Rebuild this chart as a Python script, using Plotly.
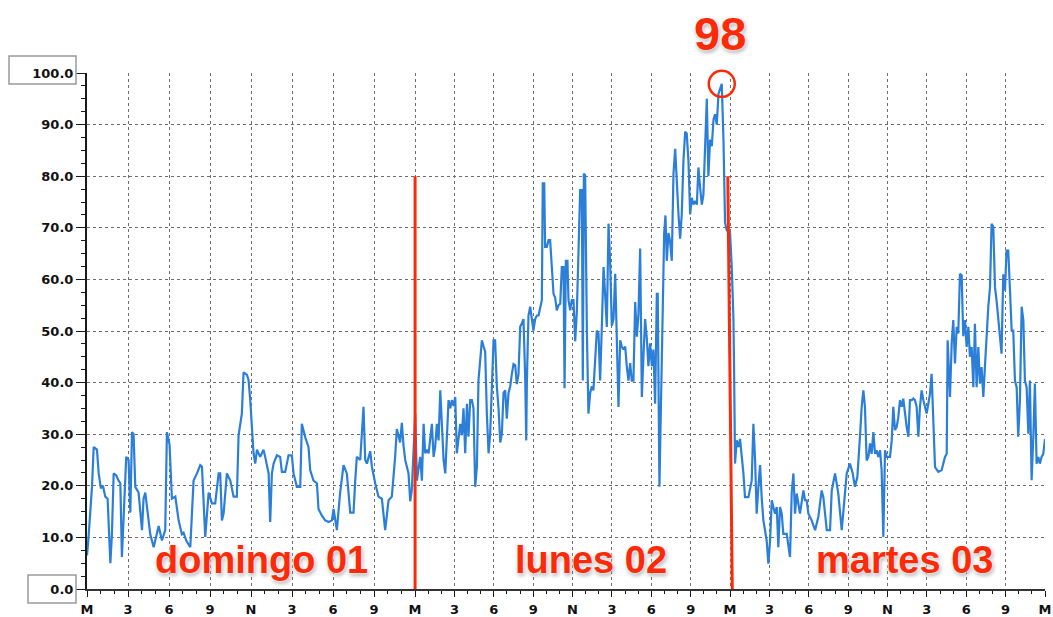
import plotly.graph_objects as go

# ---------------- data ----------------
day_names = ["domingo 01", "lunes 02", "martes 03"]
day_lengths = [25, 24, 24]          # hours shown for each day (first day has 25 h)
hour_tick_labels = ["M", "3", "6", "9", "N", "3", "6", "9"]
end_tick_label = "M"
y_tick_values = [0, 10, 20, 30, 40, 50, 60, 70, 80, 90, 100]
boxed_y_ticks = [0, 100]
peak_text = "98"

sun_hours = [0.0, 0.12, 0.38, 0.51, 0.76, 0.89, 1.06, 1.22, 1.39, 1.57,
             1.78, 1.90, 2.03, 2.23, 2.41, 2.54, 2.66, 2.79, 2.99, 3.17,
             3.30, 3.43, 3.55, 3.68, 3.93, 4.19, 4.31, 4.44, 4.57, 4.82,
             5.08, 5.33, 5.46, 5.71, 5.96, 6.09, 6.29, 6.47, 6.73, 6.98,
             7.23, 7.36, 7.56, 7.87, 8.12, 8.38, 8.63, 8.76, 9.01, 9.27,
             9.52, 9.77, 10.03, 10.15, 10.28, 10.41, 10.66, 10.92, 11.17, 11.42,
             11.55, 11.80, 11.93, 12.19, 12.31, 12.44, 12.57, 12.69, 12.82, 12.95,
             13.20, 13.45, 13.58, 13.84, 13.96, 14.09, 14.22, 14.47, 14.72, 14.85,
             15.10, 15.36, 15.61, 15.74, 15.99, 16.25, 16.37, 16.63, 16.88, 17.01,
             17.26, 17.52, 17.64, 17.90, 18.15, 18.41, 18.66, 18.79, 19.04, 19.29,
             19.55, 19.80, 20.06, 20.31, 20.44, 20.56, 20.82, 20.95, 21.07, 21.20,
             21.33, 21.58, 21.71, 21.96, 22.21, 22.47, 22.60, 22.72, 22.98, 23.23,
             23.48, 23.61, 23.86, 23.99, 24.12, 24.25, 24.50, 24.63, 24.75, 25.01]
sun_values = [6.5, 10.1, 19.8, 27.5, 27.0, 22.4, 19.5, 20.0, 17.9, 17.5,
              5.0, 10.6, 22.4, 22.0, 21.0, 20.5, 6.2, 14.0, 25.6, 25.0,
              14.8, 30.4, 30.0, 19.8, 18.7, 11.4, 17.5, 18.7, 15.5, 10.6,
              8.1, 10.6, 12.2, 9.4, 11.4, 30.4, 28.0, 17.5, 17.9, 13.3,
              10.6, 10.9, 9.4, 8.1, 21.0, 22.4, 24.0, 23.7, 10.1, 18.7,
              16.6, 16.6, 22.4, 22.4, 13.3, 14.6, 22.4, 21.0, 17.9, 17.9,
              29.8, 34.0, 42.0, 41.5, 40.5, 36.6, 29.8, 26.3, 24.3, 27.0,
              25.6, 27.0, 25.6, 22.4, 13.0, 22.4, 24.3, 25.9, 25.6, 22.7,
              22.7, 25.9, 25.9, 22.4, 19.8, 19.8, 32.0, 29.4, 27.5, 23.0,
              21.0, 20.5, 15.5, 14.2, 13.3, 13.0, 13.3, 15.5, 11.4, 18.7,
              24.0, 22.4, 14.8, 14.8, 21.0, 25.6, 25.0, 30.4, 35.3, 25.0,
              24.3, 26.7, 23.7, 20.5, 17.9, 17.5, 14.8, 11.4, 17.2, 17.9,
              25.6, 31.0, 28.4, 32.2, 27.8, 25.0, 22.4, 17.0, 19.2, 34.0]

mon_hours = [25.14, 25.39, 25.52, 25.65, 25.77, 25.90, 26.03, 26.15, 26.28, 26.41,
             26.53, 26.66, 26.79, 26.92, 27.04, 27.17, 27.30, 27.42, 27.55, 27.68,
             27.80, 27.93, 28.06, 28.18, 28.31, 28.44, 28.57, 28.69, 28.82, 28.95,
             29.07, 29.20, 29.33, 29.45, 29.58, 29.71, 29.83, 29.96, 30.09, 30.22,
             30.34, 30.47, 30.60, 30.72, 30.85, 30.98, 31.10, 31.23, 31.36, 31.49,
             31.61, 31.74, 31.87, 31.99, 32.12, 32.25, 32.37, 32.50, 32.63, 32.75,
             32.88, 33.01, 33.14, 33.26, 33.39, 33.47, 33.52, 33.64, 33.77, 33.90,
             34.02, 34.15, 34.28, 34.41, 34.53, 34.66, 34.73, 34.84, 34.91, 35.04,
             35.17, 35.29, 35.42, 35.55, 35.67, 35.80, 35.93, 36.06, 36.18, 36.31,
             36.39, 36.49, 36.61, 36.69, 36.82, 36.94, 37.07, 37.20, 37.33, 37.45,
             37.58, 37.71, 37.78, 37.86, 37.96, 38.09, 38.21, 38.34, 38.47, 38.59,
             38.72, 38.85, 38.98, 39.10, 39.23, 39.36, 39.48, 39.61, 39.74, 39.86,
             39.99, 40.12, 40.25, 40.37, 40.50, 40.63, 40.75, 40.88, 41.01, 41.13,
             41.26, 41.39, 41.51, 41.64, 41.77, 41.90, 42.02, 42.15, 42.28, 42.40,
             42.53, 42.66, 42.78, 42.91, 43.04, 43.16, 43.29, 43.42, 43.49, 43.62,
             43.72, 43.88, 43.98, 44.08, 44.18, 44.31, 44.43, 44.56, 44.69, 44.82,
             44.94, 45.07, 45.20, 45.32, 45.45, 45.58, 45.70, 45.83, 45.96, 46.08,
             46.21, 46.34, 46.47, 46.59, 46.72, 46.85, 46.97, 47.10, 47.23, 47.35,
             47.48, 47.61, 47.74, 47.86, 47.99, 48.12, 48.24, 48.37, 48.50, 48.62,
             48.75]
mon_values = [21.0, 25.6, 21.0, 32.0, 26.3, 27.0, 26.3, 29.8, 32.0, 25.6,
              27.5, 32.0, 28.8, 38.5, 32.0, 25.0, 22.4, 28.8, 36.6, 35.0,
              36.6, 35.5, 37.2, 26.3, 29.8, 32.0, 29.8, 35.0, 26.3, 35.9,
              29.5, 36.6, 36.6, 35.0, 19.8, 23.7, 40.4, 45.0, 48.2, 47.0,
              46.0, 33.8, 26.3, 30.0, 39.0, 48.2, 48.2, 39.3, 35.0, 28.4,
              30.0, 38.0, 38.5, 33.0, 38.0, 39.3, 41.6, 43.6, 43.4, 39.7,
              41.6, 50.8, 51.5, 52.3, 41.0, 28.8, 40.4, 53.0, 54.7, 52.3,
              50.1, 52.3, 53.0, 53.0, 54.3, 56.0, 78.6, 78.6, 66.3, 66.3,
              67.6, 67.6, 62.4, 57.2, 56.5, 54.0, 55.0, 55.3, 62.4, 62.4,
              38.9, 63.6, 63.6, 56.0, 54.0, 56.0, 56.0, 48.0, 54.0, 63.6,
              77.3, 77.3, 40.4, 80.5, 80.2, 50.0, 34.0, 38.0, 39.3, 38.5,
              44.4, 50.1, 49.5, 40.4, 50.8, 62.4, 57.2, 50.8, 70.8, 63.6,
              51.0, 52.3, 61.1, 47.6, 35.3, 48.2, 47.0, 46.4, 47.0, 43.2,
              40.4, 43.8, 40.4, 40.4, 55.6, 48.9, 53.3, 66.0, 37.2, 45.0,
              52.3, 48.5, 43.2, 47.6, 43.2, 46.4, 35.9, 57.2, 57.2, 19.8,
              33.4, 54.0, 68.9, 72.4, 63.6, 69.0, 67.4, 63.6, 80.5, 85.3,
              77.9, 72.6, 67.9, 72.6, 83.0, 88.6, 88.3, 83.0, 72.6, 75.8,
              74.5, 75.2, 74.5, 81.7, 77.8, 74.5, 76.4, 86.9, 95.0, 80.0,
              87.1, 85.8, 91.0, 92.0, 90.0, 96.0, 97.0, 97.9, 87.0, 71.0,
              69.5]

tue_hours = [49.00, 49.13, 49.26, 49.31, 49.38, 49.51, 49.64, 49.76, 49.89, 50.02,
             50.14, 50.40, 50.65, 50.78, 50.91, 51.03, 51.16, 51.29, 51.41, 51.54,
             51.79, 51.92, 52.05, 52.18, 52.30, 52.43, 52.56, 52.68, 52.81, 52.94,
             53.06, 53.32, 53.57, 53.70, 53.83, 53.95, 54.08, 54.33, 54.59, 54.71,
             54.84, 54.97, 55.22, 55.48, 55.73, 55.98, 56.11, 56.37, 56.62, 56.75,
             57.00, 57.25, 57.51, 57.76, 57.89, 58.14, 58.35, 58.52, 58.70, 58.90,
             59.03, 59.16, 59.28, 59.41, 59.54, 59.67, 59.79, 59.92, 60.05, 60.17,
             60.30, 60.43, 60.55, 60.68, 60.81, 60.94, 61.19, 61.32, 61.44, 61.57,
             61.70, 61.82, 61.95, 62.08, 62.20, 62.46, 62.59, 62.71, 62.84, 62.97,
             63.09, 63.22, 63.35, 63.47, 63.60, 63.73, 63.85, 63.98, 64.11, 64.24,
             64.36, 64.49, 64.62, 64.87, 65.12, 65.38, 65.51, 65.58, 65.76, 65.89,
             66.01, 66.14, 66.27, 66.39, 66.52, 66.65, 66.77, 66.90, 67.03, 67.16,
             67.28, 67.41, 67.54, 67.66, 67.79, 67.92, 68.04, 68.17, 68.30, 68.42,
             68.55, 68.68, 68.81, 68.93, 69.06, 69.19, 69.31, 69.44, 69.57, 69.69,
             69.82, 69.95, 70.07, 70.20, 70.33, 70.46, 70.58, 70.71, 70.84, 70.96,
             71.09, 71.22, 71.35, 71.47, 71.60, 71.73, 71.85, 71.98, 72.11, 72.23,
             72.36, 72.49, 72.61, 72.74, 72.87, 73.00]
tue_values = [69.0, 62.4, 52.3, 42.0, 24.3, 28.8, 27.5, 29.1, 26.3, 22.4,
              17.8, 17.8, 21.0, 32.0, 24.9, 14.6, 19.8, 24.0, 17.8, 13.3,
              9.4, 4.9, 9.4, 17.2, 15.9, 14.6, 15.9, 8.1, 15.9, 14.6,
              10.7, 10.7, 6.2, 18.7, 22.4, 14.6, 18.5, 14.6, 19.1, 17.2,
              17.2, 14.6, 13.3, 11.4, 14.0, 19.1, 17.8, 11.4, 11.4, 19.1,
              22.4, 18.5, 11.4, 18.5, 22.4, 24.3, 22.4, 19.8, 21.7, 29.5,
              35.3, 38.5, 35.3, 24.9, 25.6, 28.2, 26.2, 30.4, 26.2, 26.9,
              25.6, 26.9, 23.0, 10.1, 26.9, 25.6, 25.6, 28.8, 35.3, 30.8,
              31.4, 33.3, 36.6, 35.3, 36.9, 31.4, 29.5, 36.6, 36.6, 36.9,
              36.6, 35.3, 29.5, 35.3, 38.5, 36.6, 35.3, 34.0, 35.9, 37.9,
              41.7, 32.6, 23.6, 22.7, 23.0, 25.6, 26.2, 48.2, 37.2, 47.6,
              52.1, 43.7, 50.8, 49.5, 61.1, 60.8, 49.0, 52.1, 46.9, 50.8,
              45.0, 46.9, 39.1, 51.4, 39.1, 46.9, 39.8, 43.0, 37.2, 43.0,
              49.5, 54.7, 58.5, 70.8, 70.2, 58.5, 55.9, 52.1, 48.8, 45.6,
              61.0, 57.8, 65.6, 65.6, 58.0, 50.1, 50.1, 40.4, 39.1, 29.5,
              36.6, 54.7, 52.1, 40.4, 39.1, 30.1, 40.4, 21.1, 29.5, 39.8,
              24.3, 25.6, 24.3, 25.6, 26.2, 29.1]

hours = sun_hours + mon_hours + tue_hours
values = sun_values + mon_values + tue_values

# ---------------- styling ----------------
BLUE = "#2b7fd9"
RED = "#fb2b0a"
GRID = "#6e6e6e"
AXIS = "#1a1a1a"
TICK_FONT = dict(family="DejaVu Sans, Verdana, sans-serif", size=13, color="#111111", weight="bold")
LABEL_FONT = dict(family="Liberation Sans, Arial, Helvetica, sans-serif", color=RED, weight="bold",
                  shadow="0px 0px 2px #ffffff, 0px 0px 4px #ffffff, 1px 2px 4px rgba(0,0,0,0.45)")

FIG_W, FIG_H = 1053, 617
M_L, M_R, M_T, M_B = 87, 8, 73, 28
plot_w = FIG_W - M_L - M_R
plot_h = FIG_H - M_T - M_B

total_hours = sum(day_lengths)
day_starts = [sum(day_lengths[:i]) for i in range(len(day_lengths))]

tickvals, ticktext, minor_vals = [], [], []
for start, length in zip(day_starts, day_lengths):
    for k, lab in enumerate(hour_tick_labels):
        tickvals.append(start + k * length / 8)
        ticktext.append(lab)
    for j in range(1, 24):
        if j % 3:
            minor_vals.append(start + j * length / 24)
tickvals.append(total_hours)
ticktext.append(end_tick_label)

fig = go.Figure()
fig.add_trace(go.Scatter(x=hours, y=values, mode="lines",
                         line=dict(color=BLUE, width=2.2),
                         hoverinfo="skip", showlegend=False))

# circle around the maximum
imax = max(range(len(values)), key=values.__getitem__)
fig.add_trace(go.Scatter(x=[hours[imax]], y=[values[imax]], mode="markers",
                         marker=dict(symbol="circle-open", size=26, color=RED,
                                     line=dict(width=2.5, color=RED)),
                         cliponaxis=False, hoverinfo="skip", showlegend=False))

shapes = []
# red day separators (from 0 up to 80)
for i, start in enumerate(day_starts[1:]):
    lean = 0.0 if i == 0 else 0.17
    shapes.append(dict(type="line", xref="x", yref="y", x0=start - lean, x1=start + lean,
                       y0=80, y1=0, line=dict(color=RED, width=3), layer="above"))
# boxes around the first and last y tick labels
for v in boxed_y_ticks:
    txt = f"{v:.1f}"
    w_px = 19.5 + 9.5 * len(txt)
    h_px = 14
    yc = v / 100 + (3 / plot_h if v == 100 else 0)
    shapes.append(dict(type="rect", xref="paper", yref="paper",
                       x0=-(11 + w_px) / plot_w, x1=-11 / plot_w,
                       y0=yc - h_px / plot_h, y1=yc + h_px / plot_h,
                       line=dict(color="#9a9a9a", width=1.5), fillcolor="rgba(0,0,0,0)", layer="above"))

annotations = []
label_hours = [13.3, 38.4, 62.3]
for name, hx in zip(day_names, label_hours):
    annotations.append(dict(x=hx, y=5.6, xref="x", yref="y", text=name, showarrow=False,
                            xanchor="center", yanchor="middle",
                            font=dict(size=38, **LABEL_FONT)))
annotations.append(dict(x=hours[imax] - 0.15, y=1.0 + 40 / plot_h, xref="x", yref="paper", text=peak_text,
                        showarrow=False, xanchor="center", yanchor="middle",
                        font=dict(size=47, **LABEL_FONT)))

fig.update_layout(
    width=FIG_W, height=FIG_H,
    margin=dict(l=M_L, r=M_R, t=M_T, b=M_B, autoexpand=False),
    paper_bgcolor="white", plot_bgcolor="white",
    showlegend=False, hovermode=False,
    shapes=shapes, annotations=annotations,
)
fig.update_xaxes(
    range=[0, total_hours], tickmode="array", tickvals=tickvals, ticktext=ticktext,
    tickangle=0, tickfont=TICK_FONT, ticks="outside", ticklen=6, tickwidth=1, tickcolor=AXIS,
    ticklabelstandoff=2, ticklabeloverflow="allow",
    showline=True, linecolor="#333333", linewidth=1.5, zeroline=False,
    showgrid=True, gridcolor=GRID, gridwidth=1, griddash="3px,3px",
    minor=dict(tickvals=minor_vals, ticks="outside", ticklen=3, tickcolor=AXIS, showgrid=False),
)
fig.update_yaxes(
    range=[0, 100], tickmode="array", tickvals=y_tick_values, tickformat=".1f",
    tickfont=TICK_FONT, ticks="outside", ticklen=9, tickwidth=1, tickcolor=AXIS,
    showline=True, linecolor=AXIS, linewidth=2, zeroline=False,
    showgrid=True, gridcolor=GRID, gridwidth=1, griddash="3px,3px",
    minor=dict(dtick=2.5, ticks="outside", ticklen=4, tickcolor=AXIS, showgrid=False),
)

# remove the browser's default 8px page margin so the figure fills the window exactly
fig.write_html("out.html",
               config={"displayModeBar": False, "staticPlot": True},
               post_script="document.body.style.margin='0';document.body.style.overflow='hidden';")
